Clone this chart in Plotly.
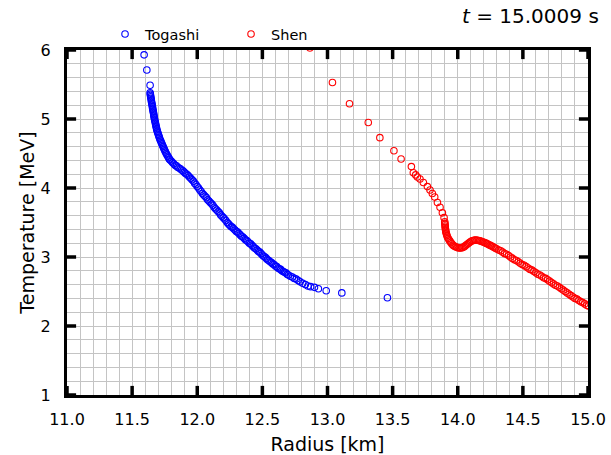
import plotly.graph_objects as go

# ---- Togashi (blue) ----
togashi_r = [
    11.592, 11.613, 11.638,
    11.638, 11.640, 11.641, 11.643, 11.645, 11.647, 11.648, 11.650, 11.652,
    11.654, 11.656, 11.657, 11.659, 11.661, 11.663, 11.665, 11.666, 11.668, 11.670,
    11.672, 11.674, 11.677, 11.679, 11.681, 11.683, 11.686, 11.688, 11.690,
    11.694, 11.697, 11.701, 11.704, 11.708, 11.711, 11.715,
    11.720, 11.724, 11.729, 11.733, 11.738, 11.742, 11.747, 11.752, 11.756,
    11.762, 11.768, 11.774, 11.780, 11.786,
    11.79, 11.80, 11.81, 11.82, 11.83, 11.84, 11.85, 11.86, 11.87, 11.88, 11.89,
    11.90, 11.91, 11.92, 11.93, 11.94, 11.95, 11.96, 11.97, 11.98, 11.99, 12.00,
    12.01, 12.02, 12.03, 12.04, 12.05, 12.06, 12.07, 12.08, 12.09, 12.10,
    12.11, 12.12, 12.13, 12.14, 12.15, 12.16, 12.17, 12.18, 12.19, 12.20,
    12.21, 12.22, 12.23, 12.24, 12.25, 12.26, 12.27, 12.28, 12.29, 12.30,
    12.31, 12.32, 12.33, 12.34, 12.35, 12.36, 12.37, 12.38, 12.39, 12.40,
    12.41, 12.42, 12.43, 12.44, 12.45, 12.46, 12.47, 12.48, 12.49, 12.50,
    12.51, 12.52, 12.53, 12.54, 12.55, 12.56, 12.57, 12.58, 12.59, 12.60,
    12.61, 12.62, 12.63, 12.64, 12.65, 12.66, 12.67, 12.68, 12.69, 12.70,
    12.715, 12.73, 12.745, 12.76, 12.775, 12.79, 12.81, 12.83, 12.85, 12.87,
    12.90, 12.93, 12.99, 13.11, 13.46,
]
togashi_T = [
    5.93, 5.71, 5.49,
    5.38, 5.36, 5.34, 5.32, 5.30, 5.28, 5.26, 5.24, 5.22,
    5.20, 5.18, 5.16, 5.14, 5.12, 5.10, 5.08, 5.06, 5.04, 5.02,
    5.00, 4.98, 4.96, 4.94, 4.92, 4.90, 4.88, 4.86, 4.84,
    4.82, 4.80, 4.78, 4.76, 4.74, 4.72, 4.70,
    4.68, 4.66, 4.64, 4.62, 4.60, 4.58, 4.56, 4.54, 4.52,
    4.50, 4.48, 4.46, 4.44, 4.42,
    4.41, 4.39, 4.37, 4.35, 4.33, 4.32, 4.30, 4.29, 4.28, 4.26, 4.25,
    4.23, 4.21, 4.20, 4.18, 4.16, 4.14, 4.12, 4.10, 4.07, 4.05, 4.02,
    4.00, 3.97, 3.95, 3.92, 3.90, 3.88, 3.86, 3.83, 3.81, 3.79,
    3.77, 3.75, 3.72, 3.70, 3.68, 3.66, 3.64, 3.61, 3.59, 3.57,
    3.55, 3.53, 3.50, 3.48, 3.46, 3.44, 3.43, 3.41, 3.39, 3.37,
    3.36, 3.34, 3.32, 3.30, 3.29, 3.27, 3.25, 3.24, 3.22, 3.20,
    3.19, 3.17, 3.15, 3.13, 3.12, 3.10, 3.08, 3.07, 3.05, 3.03,
    3.01, 3.00, 2.98, 2.96, 2.95, 2.93, 2.92, 2.90, 2.89, 2.87,
    2.86, 2.84, 2.83, 2.82, 2.80, 2.79, 2.78, 2.77, 2.75, 2.74,
    2.72, 2.71, 2.69, 2.68, 2.66, 2.64, 2.62, 2.60, 2.58, 2.57,
    2.56, 2.54, 2.51, 2.48, 2.41,
]

# ---- Shen (red) ----
shen_r = [
    12.865, 13.038, 13.169, 13.313, 13.402, 13.510, 13.565, 13.644, 13.659, 13.677,
    13.690, 13.710, 13.736, 13.767, 13.787, 13.805, 13.823, 13.844, 13.864, 13.882,
    13.895,
    13.900, 13.901, 13.902, 13.903, 13.904, 13.905, 13.907, 13.908, 13.911, 13.914,
    13.917, 13.921, 13.926, 13.933, 13.940, 13.947, 13.955, 13.964, 13.972, 13.982,
    13.992, 14.002, 14.012, 14.022, 14.032, 14.041, 14.050, 14.060, 14.070, 14.080,
    14.090, 14.100, 14.110, 14.120, 14.130, 14.140, 14.150, 14.160, 14.170, 14.180,
    14.190, 14.200, 14.210, 14.220, 14.230, 14.240, 14.250, 14.260, 14.270, 14.280,
    14.290, 14.300,
    14.315, 14.330, 14.345, 14.360, 14.375, 14.390, 14.405, 14.420, 14.435, 14.450,
    14.465, 14.480, 14.495, 14.510, 14.525, 14.540, 14.555, 14.570, 14.585, 14.600,
    14.615, 14.630, 14.645, 14.660, 14.675, 14.690, 14.705, 14.720, 14.735, 14.750,
    14.765, 14.780, 14.795, 14.810, 14.825, 14.840, 14.855, 14.870, 14.885, 14.900,
    14.915, 14.930, 14.945, 14.960, 14.975, 14.990, 15.005,
]
shen_T = [
    6.03, 5.53, 5.22, 4.95, 4.73, 4.54, 4.42, 4.31, 4.22, 4.19,
    4.16, 4.13, 4.08, 4.02, 3.97, 3.92, 3.87, 3.79, 3.72, 3.64,
    3.57,
    3.51, 3.49, 3.47, 3.45, 3.43, 3.41, 3.39, 3.37, 3.35, 3.33,
    3.31, 3.29, 3.27, 3.25, 3.23, 3.21, 3.19, 3.17, 3.16, 3.15,
    3.14, 3.135, 3.13, 3.13, 3.135, 3.14, 3.15, 3.165, 3.18, 3.195,
    3.21, 3.225, 3.235, 3.24, 3.245, 3.245, 3.243, 3.24, 3.235, 3.228,
    3.22, 3.213, 3.205, 3.197, 3.188, 3.178, 3.168, 3.158, 3.148, 3.138,
    3.127, 3.115,
    3.10, 3.09, 3.07, 3.05, 3.04, 3.02, 3.00, 2.98, 2.96, 2.95,
    2.93, 2.91, 2.89, 2.88, 2.86, 2.84, 2.82, 2.81, 2.79, 2.77,
    2.75, 2.74, 2.72, 2.70, 2.69, 2.67, 2.65, 2.63, 2.61, 2.59,
    2.58, 2.56, 2.54, 2.52, 2.50, 2.48, 2.46, 2.44, 2.42, 2.40,
    2.39, 2.37, 2.35, 2.34, 2.32, 2.30, 2.29,
]

x_range = [11.0, 15.0]
y_range = [1, 6]
x_ticks = [11.0, 11.5, 12.0, 12.5, 13.0, 13.5, 14.0, 14.5, 15.0]
x_tick_text = ["11.0", "11.5", "12.0", "12.5", "13.0", "13.5", "14.0", "14.5", "15.0"]
y_ticks = [1, 2, 3, 4, 5, 6]
x_grid_step = 0.1
y_grid_step = 0.2

FONT = "DejaVu Sans"
GRID = "#c4c4c4"

fig = go.Figure()
fig.add_trace(go.Scatter(
    x=togashi_r, y=togashi_T, mode="markers", name="Togashi",
    marker=dict(symbol="circle-open", size=6.5, color="#0000ff", line=dict(width=1.1)),
    cliponaxis=True,
))
fig.add_trace(go.Scatter(
    x=shen_r, y=shen_T, mode="markers", name="Shen",
    marker=dict(symbol="circle-open", size=6.5, color="#ff0000", line=dict(width=1.1)),
    cliponaxis=True,
))

# Inward tick marks on all four spines (half of each marker is clipped by the plot area)
tick_marker_x = dict(symbol="line-ns", size=13, color="black", line=dict(width=3.5, color="black"))
tick_marker_y = dict(symbol="line-ew", size=13, color="black", line=dict(width=3.5, color="black"))
for yv in y_range:
    fig.add_trace(go.Scatter(
        x=x_ticks, y=[yv] * len(x_ticks), mode="markers", marker=tick_marker_x,
        cliponaxis=True, showlegend=False, hoverinfo="skip",
    ))
for xv in x_range:
    fig.add_trace(go.Scatter(
        x=[xv] * len(y_ticks), y=y_ticks, mode="markers", marker=tick_marker_y,
        cliponaxis=True, showlegend=False, hoverinfo="skip",
    ))

fig.update_xaxes(
    range=x_range, tickvals=x_ticks, ticktext=x_tick_text, ticklabelstandoff=8,
    title=dict(text="Radius [km]", font=dict(family=FONT, size=19, color="black"), standoff=11),
    showline=True, linecolor="black", linewidth=3, mirror=True,
    ticks="", showgrid=True, gridcolor=GRID, gridwidth=1,
    minor=dict(dtick=x_grid_step, tick0=x_range[0], showgrid=True, gridcolor=GRID, gridwidth=1),
    zeroline=False, automargin=False,
    tickfont=dict(family=FONT, size=16, color="black"),
)
fig.update_yaxes(
    range=y_range, tickvals=y_ticks, ticklabelstandoff=10,
    title=dict(text="Temperature [MeV]", font=dict(family=FONT, size=19, color="black"), standoff=1),
    showline=True, linecolor="black", linewidth=3, mirror=True,
    ticks="", showgrid=True, gridcolor=GRID, gridwidth=1,
    minor=dict(dtick=y_grid_step, tick0=y_range[0], showgrid=True, gridcolor=GRID, gridwidth=1),
    zeroline=False, automargin=False,
    tickfont=dict(family=FONT, size=16, color="black"),
)

fig.update_layout(
    width=611, height=455,
    margin=dict(l=67, r=23, t=50, b=60),
    plot_bgcolor="white", paper_bgcolor="white",
    font=dict(family=FONT, color="black"),
    legend=dict(
        orientation="h", x=0.073, y=1.0, xanchor="left", yanchor="bottom",
        font=dict(family=FONT, size=14.5, color="black"),
        entrywidth=81, entrywidthmode="pixels",
        bgcolor="rgba(0,0,0,0)",
    ),
    annotations=[dict(
        text="<i>t</i> = 15.0009 s", xref="paper", yref="paper",
        x=1.025, y=1.0, xanchor="right", yanchor="bottom", yshift=20,
        showarrow=False, font=dict(family=FONT, size=20, color="black"),
    )],
)

fig.write_html("out.html")
